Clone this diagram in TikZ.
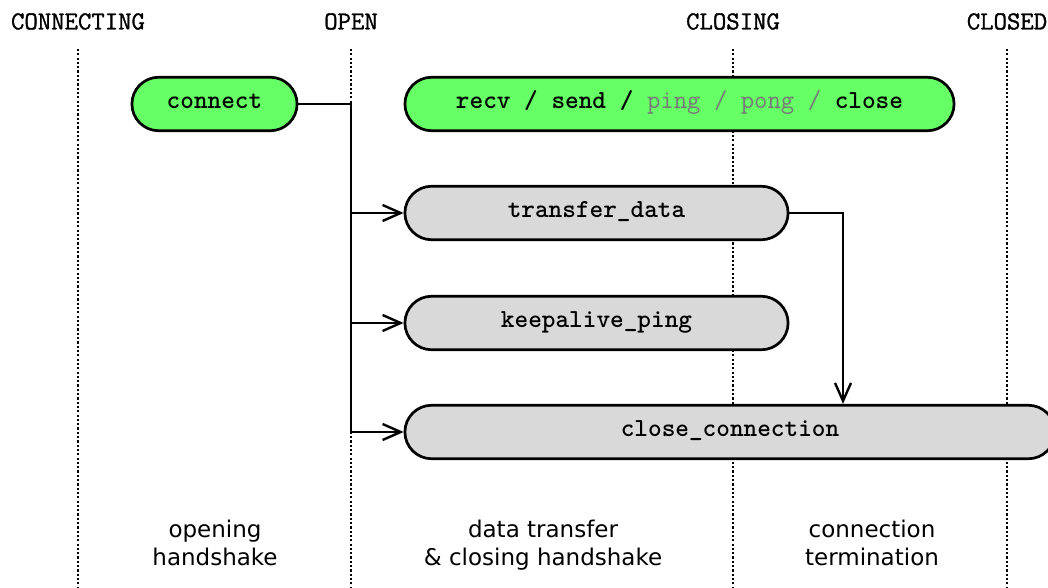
\documentclass[tikz,border=0pt]{standalone}
\usepackage{fontspec}
\newfontfamily\phasefont{DejaVu Sans}
\newfontfamily\statefont{Latin Modern Mono}[FakeBold=1.2]
\usetikzlibrary{shapes.misc,arrows.meta}
\definecolor{callgreen}{RGB}{102,255,102}
\definecolor{taskgrey}{RGB}{217,217,217}
\definecolor{framegrey}{RGB}{120,120,120}
\begin{document}
\begin{tikzpicture}[x=0.5pt,y=-0.5pt,
    state/.style={font=\fontsize{13}{14}\selectfont\statefont},
    phase/.style={line width=1.4pt,dash pattern=on 1.1pt off 1.05pt},
    call/.style={rounded rectangle,draw,line width=1.35pt,fill=callgreen,minimum height=26.75pt,
        font=\fontsize{13}{14}\selectfont\ttfamily\bfseries,text height=0.5em,text depth=0.07em},
    task/.style={call,fill=taskgrey},
    link/.style={line width=1pt,-{Straight Barb[length=9pt,width=8pt,line width=1.2pt]}},
    stage/.style={font=\fontsize{11.5}{14}\selectfont\phasefont,align=center,anchor=north,inner sep=0pt}]
    \useasboundingbox (0,0) rectangle (1048,588);
    \node[state] (connecting) at (78,21.5) {CONNECTING};
    \node[state] (open) at (351,21.5) {OPEN};
    \node[state] (closing) at (733,21.5) {CLOSING};
    \node[state] (closed) at (1007,21.5) {CLOSED};
    \foreach \s in {connecting,open,closing,closed}
        \draw[phase] (\s) ++(0,27.5) -- ++(0,545);
    \node[call,minimum width=89.25pt] (connect) at (214.5,104) {connect};
    \node[call,minimum width=281.25pt] (api) at (679.5,104) {recv / send / {\mdseries\color{framegrey}ping / pong /} close};
    \node[task,minimum width=198.25pt] (transfer) at (596.5,213) {transfer\_data};
    \node[task,minimum width=198.25pt] (keepalive) at (596.5,323) {keepalive\_ping};
    \node[task,minimum width=331.75pt] (closeconn) at (730,432) {close\_connection};
    \draw[link] (connect.east) -| (open |- closeconn.west) -- (closeconn.west);
    \draw[link] (open |- transfer.west) -- (transfer.west);
    \draw[link] (open |- keepalive.west) -- (keepalive.west);
    \draw[link] (transfer.east) -| ([xshift=56.5pt]closeconn.north);
    \node[stage] (opening) at (215,519.5) {opening\\handshake};
    \node[stage] (datatransfer) at (543,519.5) {data transfer\\\& closing handshake};
    \node[stage] (termination) at (872,519.5) {connection\\termination};
\end{tikzpicture}
\end{document}
